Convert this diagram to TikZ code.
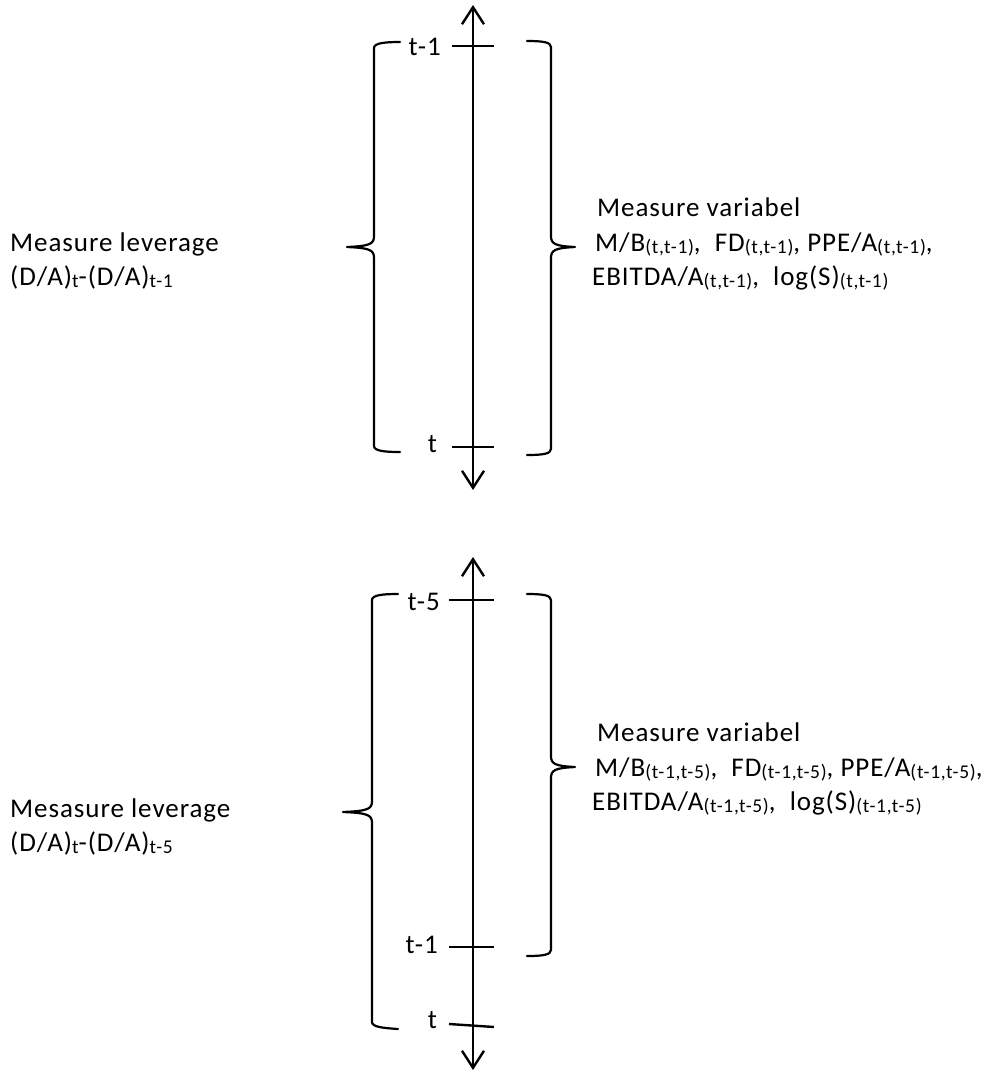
\documentclass[tikz,border=0pt]{standalone}
\usepackage{fontspec}
\setmainfont{Carlito}[LetterSpace=3.5]
\usetikzlibrary{arrows.meta}
\newcommand{\lo}[1]{{\fontsize{19.5}{19.5}\selectfont\raisebox{-2pt}{#1}}}
\tikzset{
  axisline/.style={line width=2.4pt,{Straight Barb[length=17pt,width=22pt]}-{Straight Barb[length=17pt,width=22pt]}},
  tickline/.style={line width=2.4pt},
  brace/.style={line width=2.2pt,line cap=round,line join=round},
  txt/.style={inner sep=0pt,anchor=base west,font=\fontsize{27}{27}\selectfont},
  tlab/.style={inner sep=0pt,anchor=base east,font=\fontsize{27}{27}\selectfont},
}
\begin{document}
\begin{tikzpicture}[x=1pt,y=-1pt]
\useasboundingbox (0,0) rectangle (987,1072);
% ---------- top diagram ----------
\coordinate (A1t) at (473,5);
\coordinate (A1b) at (473,490);
\draw[axisline] (A1b) -- (A1t);
\coordinate (T1a) at (452,46); \coordinate (T1b) at (494,46);
\coordinate (T2a) at (452,447); \coordinate (T2b) at (494,447);
\draw[tickline] (T1a) -- (T1b);
\draw[tickline] (T2a) -- (T2b);
\node[tlab] (l1) at (441,55) {t-1};
\node[tlab] (l2) at (437,452) {t};
% left brace
\draw[brace] (400,42) .. controls (385,42) and (374,43) .. (374,48)
  -- (374,236) .. controls (374,244) and (370,246) .. (347,247)
  .. controls (370,248) and (374,250) .. (374,258)
  -- (374,446) .. controls (374,451) and (385,452) .. (400,452);
% right brace
\draw[brace] (527,41) .. controls (542,41) and (551,42) .. (551,47)
  -- (551,236) .. controls (551,244) and (555,246) .. (575,247)
  .. controls (555,248) and (551,250) .. (551,258)
  -- (551,449) .. controls (551,454) and (542,455) .. (527,455);
\node[txt] (a1) at (10,251) {Measure leverage};
\node[txt] (a2) at (10,285) {(D/A)\lo{t}-(D/A)\lo{t-1}};
\node[txt] (b1) at (597,216) {Measure variabel};
\node[txt] (b2) at (595,251) {M/B\lo{(t,t-1)},\ \ FD\lo{(t,t-1)}, PPE/A\lo{(t,t-1)},};
\node[txt] (b3) at (592,285) {EBITDA/A\lo{(t,t-1)},\ \ log(S)\lo{(t,t-1)}};
% ---------- bottom diagram ----------
\coordinate (B1t) at (473,557);
\coordinate (B1b) at (473,1070);
\draw[axisline] (B1b) -- (B1t);
\coordinate (U1a) at (449,600); \coordinate (U1b) at (494,600);
\coordinate (U2a) at (449,947); \coordinate (U2b) at (494,947);
\coordinate (U3a) at (449,1024); \coordinate (U3b) at (494,1027);
\draw[tickline] (U1a) -- (U1b);
\draw[tickline] (U2a) -- (U2b);
\draw[tickline] (U3a) -- (U3b);
\node[tlab] (m1) at (440,610) {t-5};
\node[tlab] (m2) at (438,953) {t-1};
\node[tlab] (m3) at (437,1028) {t};
% left brace
\draw[brace] (398,594) .. controls (383,594) and (372,595) .. (372,600)
  -- (372,801) .. controls (372,809) and (368,811) .. (343,812)
  .. controls (368,813) and (372,815) .. (372,823)
  -- (372,1022) .. controls (372,1027) and (383,1028) .. (398,1029);
% right brace
\draw[brace] (527,594) .. controls (542,594) and (551,595) .. (551,600)
  -- (551,756) .. controls (551,764) and (555,766) .. (575,767)
  .. controls (555,768) and (551,770) .. (551,778)
  -- (551,950) .. controls (551,955) and (542,956) .. (527,956);
\node[txt] (c1) at (10,817) {Mesasure leverage};
\node[txt] (c2) at (10,851) {(D/A)\lo{t}-(D/A)\lo{t-5}};
\node[txt] (d1) at (597,741) {Measure variabel};
\node[txt] (d2) at (595,776) {M/B\lo{(t-1,t-5)},\ \ FD\lo{(t-1,t-5)}, PPE/A\lo{(t-1,t-5)},};
\node[txt] (d3) at (592,810) {EBITDA/A\lo{(t-1,t-5)},\ \ log(S)\lo{(t-1,t-5)}};
\end{tikzpicture}
\end{document}
